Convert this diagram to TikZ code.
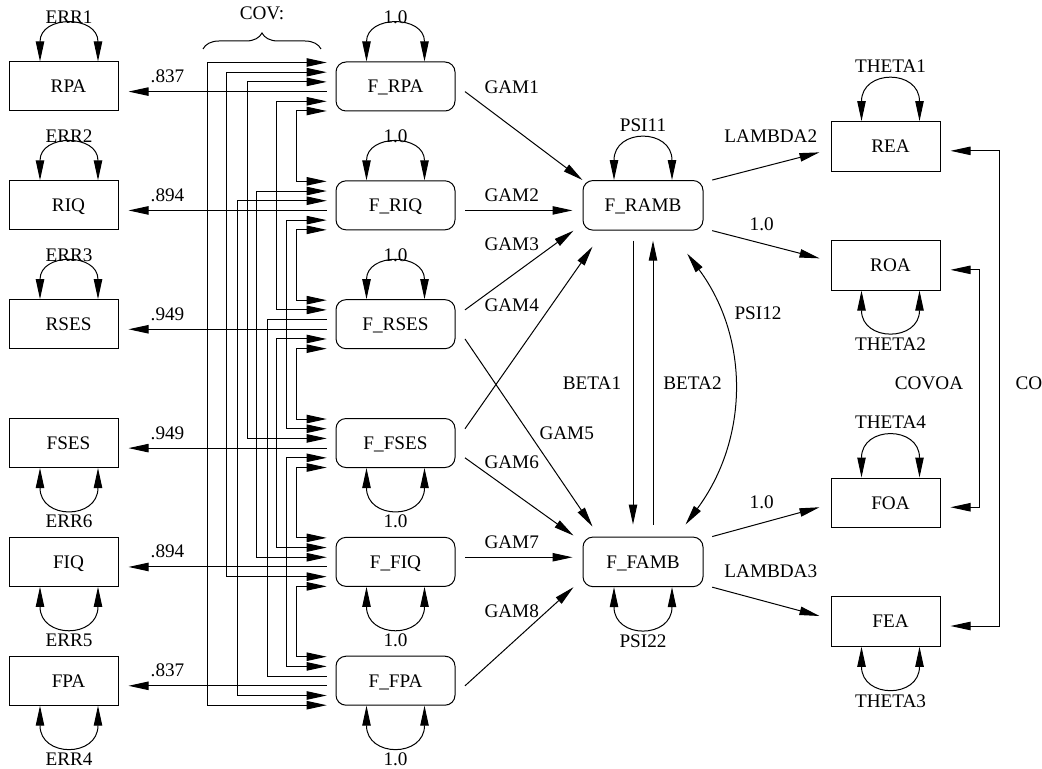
\documentclass[tikz,border=0pt]{standalone}
\usepackage{fontspec}
\setmainfont{Liberation Serif}
\usetikzlibrary{arrows.meta,calc,decorations.pathreplacing}

% variance loop on top of a box: #1 node, #2 x offset of loop centre,
% #3 arc height, #4 label height above the box, #5 label
\newcommand{\loopabove}[5]{%
  \draw[<->] ($(#1.north)+(#2-29,0)$) .. controls +(0,-#3*4/3) and +(0,-#3*4/3) .. ($(#1.north)+(#2+29,0)$);
  \node[lbl] (#1-var) at ($(#1.north)+(#2,-#4)$) {#5};}
% variance loop under a box
\newcommand{\loopbelow}[5]{%
  \draw[<->] ($(#1.south)+(#2-29,0)$) .. controls +(0,#3*4/3) and +(0,#3*4/3) .. ($(#1.south)+(#2+29,0)$);
  \node[lbl] (#1-var) at ($(#1.south)+(#2,#4)$) {#5};}

\begin{document}
\begin{tikzpicture}[x=0.5pt,y=-0.5pt,line width=0.5pt,
  >={Triangle[length=10pt,width=4.2pt]},
  every node/.style={font=\fontsize{9.6}{11.5}\selectfont},
  obs/.style={draw,rectangle,minimum width=54.5pt,minimum height=24.5pt,inner sep=0pt,text height=6.4pt,text depth=0pt},
  lat/.style={draw,rectangle,rounded corners=5pt,minimum width=59.5pt,minimum height=24.5pt,inner sep=0pt,text height=6.4pt,text depth=0pt},
  lbl/.style={inner sep=0pt,text height=6.4pt,text depth=0pt}]

\useasboundingbox (0,0) rectangle (1042,769);

% observed indicators (left)
\node[obs] (rpa)  at (63.5,86.5)   {\hspace*{5pt}RPA};
\node[obs] (riq)  at (63.5,205.34) {\hspace*{5pt}RIQ};
\node[obs] (rses) at (63.5,324.18) {\hspace*{5pt}RSES};
\node[obs] (fses) at (63.5,443.02) {\hspace*{5pt}FSES};
\node[obs] (fiq)  at (63.5,561.86) {\hspace*{5pt}FIQ};
\node[obs] (fpa)  at (63.5,680.7)  {\hspace*{5pt}FPA};

% exogenous factors
\node[lat] (frpa)  at (395.5,86.5)   {F\_RPA};
\node[lat] (friq)  at (395.5,205.34) {F\_RIQ};
\node[lat] (frses) at (395.5,324.18) {F\_RSES};
\node[lat] (ffses) at (395.5,443.02) {F\_FSES};
\node[lat] (ffiq)  at (395.5,561.86) {F\_FIQ};
\node[lat] (ffpa)  at (395.5,680.7)  {F\_FPA};

% endogenous factors
\node[lat,minimum width=60pt,minimum height=24.8pt] (framb) at (643,205.34) {F\_RAMB};
\node[lat,minimum width=60pt,minimum height=24.8pt] (ffamb) at (643,561.86) {F\_FAMB};

% outcome indicators (right)
\node[obs,minimum height=24.75pt] (rea) at (885.5,146.35) {\hspace*{5pt}REA};
\node[obs,minimum height=24.75pt] (roa) at (885.5,265.35) {\hspace*{5pt}ROA};
\node[obs,minimum height=24.75pt] (foa) at (885.5,502.75) {\hspace*{5pt}FOA};
\node[obs,minimum height=24.75pt] (fea) at (885.5,621.5)  {\hspace*{5pt}FEA};

% attachment points along the sides of the exogenous factors
\foreach \f [count=\i from 0] in {frpa,friq,frses,ffses,ffiq,ffpa} {
  \foreach \k in {0,...,5} {
    \coordinate (\f-\k)  at (326.7,62.5+118.84*\i+9.7*\k);
    \coordinate (\f-e\k) at (465,62.5+118.84*\i+9.7*\k);
  }
}

% columns of the covariance brackets
\coordinate (va) at (207.3,0);
\coordinate (vb) at (226.7,0);
\coordinate (vc) at (237.7,0);
\coordinate (vd) at (247.3,0);
\coordinate (ve) at (256.7,0);
\coordinate (vf) at (267.3,0);
\coordinate (vg) at (276.7,0);
\coordinate (vh) at (286.7,0);
\coordinate (vi) at (296.7,0);

% covariances among the exogenous factors
\draw[<->] (frpa-0) -| (va |- ffpa-5) -- (ffpa-5);
\draw[<->] (frpa-1) -| (vb |- ffiq-4) -- (ffiq-4);
\draw[<->] (frpa-2) -| (vd |- ffses-2) -- (ffses-2);
\draw[<->] (frpa-4) -| (vg |- frses-1) -- (frses-1);
\draw[<->] (frpa-5) -| (vi |- friq-0) -- (friq-0);
\draw[<->] (friq-1) -| (ve |- ffiq-2) -- (ffiq-2);
\draw[<->] (friq-2) -| (vc |- ffpa-4) -- (ffpa-4);
\draw[<->] (friq-4) -| (vh |- ffses-1) -- (ffses-1);
\draw[<->] (friq-5) -| (vi |- frses-0) -- (frses-0);
\draw      (frses-2) -| (vf |- ffpa-2) -- (ffpa-2);
\draw[<->] (frses-4) -| (vg |- ffiq-1) -- (ffiq-1);
\draw[<->] (frses-5) -| (vi |- ffses-0) -- (ffses-0);
\draw[<->] (ffses-4) -| (vh |- ffpa-1) -- (ffpa-1);
\draw[<->] (ffses-5) -| (vi |- ffiq-0) -- (ffiq-0);
\draw[<->] (ffiq-5) -| (vi |- ffpa-0) -- (ffpa-0);

\draw[decorate,decoration={brace,amplitude=8pt}] (203,49) -- (321,49);
\node[lbl] (covlbl) at (262,13) {COV:};

% loadings of the exogenous factors
\foreach \f/\o/\v in {frpa/rpa/.837,friq/riq/.894,frses/rses/.949,ffses/fses/.949,ffiq/fiq/.894,ffpa/fpa/.837} {
  \draw[->,shorten >=5pt] (\f-3) -- (\f-3 -| \o.east);
  \node[lbl] (\o-load) at ($(\f-3 -| \o.east)+(49,-15.5)$) {\v};
}

% error variances of the indicators
\loopabove{rpa}{5.5}{35}{44.5}{ERR1}
\loopabove{riq}{5.5}{35}{44.5}{ERR2}
\loopabove{rses}{5.5}{35}{44.5}{ERR3}
\loopbelow{fses}{5.5}{39}{53}{ERR6}
\loopbelow{fiq}{5.5}{39}{53}{ERR5}
\loopbelow{fpa}{5.5}{39}{53}{ERR4}

% factor variances
\loopabove{frpa}{0}{35}{44.5}{1.0}
\loopabove{friq}{0}{35}{44.5}{1.0}
\loopabove{frses}{0}{35}{44.5}{1.0}
\loopbelow{ffses}{0}{39}{53}{1.0}
\loopbelow{ffiq}{0}{39}{53}{1.0}
\loopbelow{ffpa}{0}{39}{53}{1.0}
\loopabove{framb}{0}{39}{55}{PSI11}
\loopbelow{ffamb}{0}{39}{54}{PSI22}
\loopabove{rea}{5}{39}{55}{THETA1}
\loopbelow{roa}{5}{38.6}{54}{THETA2}
\loopabove{foa}{5}{39}{55}{THETA4}
\loopbelow{fea}{5}{39}{54}{THETA3}

% structural paths
\draw[->] (frpa-e3) -- (framb.north west);
\draw[->,shorten >=5pt] (friq-e3) -- (friq-e3 -| framb.west);
\draw[->] (frses-e1) -- ($(framb.south west)+(-9,0)$);
\draw[->] (ffses-e1) -- ($(framb.south west)+(10,16)$);
\draw[->] (frses-e4) -- ($(ffamb.north west)+(10,-10)$);
\draw[->] (ffses-e4) -- ($(ffamb.north west)+(-9,-1)$);
\draw[->,shorten >=5pt] (ffiq-e2) -- (ffiq-e2 -| ffamb.west);
\draw[->] (ffpa-e3) -- ($(ffamb.south west)+(-9,0)$);

\node[lbl] (g1) at (511.7,86.7)  {GAM1};
\node[lbl] (g2) at (511.7,195)   {GAM2};
\node[lbl] (g3) at (511.7,244)   {GAM3};
\node[lbl] (g4) at (511.7,305)   {GAM4};
\node[lbl] (g5) at (566.7,433.3) {GAM5};
\node[lbl] (g6) at (511.7,461.7) {GAM6};
\node[lbl] (g7) at (511.7,541.7) {GAM7};
\node[lbl] (g8) at (511.7,610.7) {GAM8};

% reciprocal paths and disturbance covariance
\draw[->] ($(framb.south)+(-10,10)$) -- ($(ffamb.north)+(-10,-12)$);
\draw[->] ($(ffamb.north)+(10,-12)$) -- ($(framb.south)+(10,10)$);
\draw[<->] ($(framb.south east)+(-16.3,23)$) .. controls +(63,85) and +(63,-85) .. ($(ffamb.north east)+(-18,-12)$);
\node[lbl] (b1) at (592,383.3)   {BETA1};
\node[lbl] (b2) at (692.5,383.3) {BETA2};
\node[lbl] (p12) at (758,313)    {PSI12};

% loadings of the endogenous factors
\draw[->] ($(framb.north east)+(8.7,0)$) -- ($(rea.west)+(-11,6)$);
\draw[->] ($(framb.south east)+(8.7,0)$) -- ($(roa.west)+(-11,-7)$);
\draw[->] ($(ffamb.north east)+(8.7,0)$) -- ($(foa.west)+(-11,4.5)$);
\draw[->] ($(ffamb.south east)+(8.7,0)$) -- ($(fea.west)+(-11,-5.5)$);
\node[lbl] (l2) at (770.8,136)   {LAMBDA2};
\node[lbl] (l1a) at (761.7,224)  {1.0};
\node[lbl] (l1b) at (761.7,502)  {1.0};
\node[lbl] (l3) at (770.8,571.4) {LAMBDA3};

% error covariances of the outcomes
\draw[<->] ($(rea.east)+(10,4.5)$) -- ++(49.3,0) |- ($(fea.east)+(10,4.5)$);
\draw[<->] ($(roa.east)+(10,4.5)$) -- ++(29.3,0) |- ($(foa.east)+(10,4.5)$);
\node[lbl] (covoa) at (929,383.3) {COVOA};
\node[lbl,anchor=west] (covea) at (1015,383.3) {CO};

\end{tikzpicture}
\end{document}
